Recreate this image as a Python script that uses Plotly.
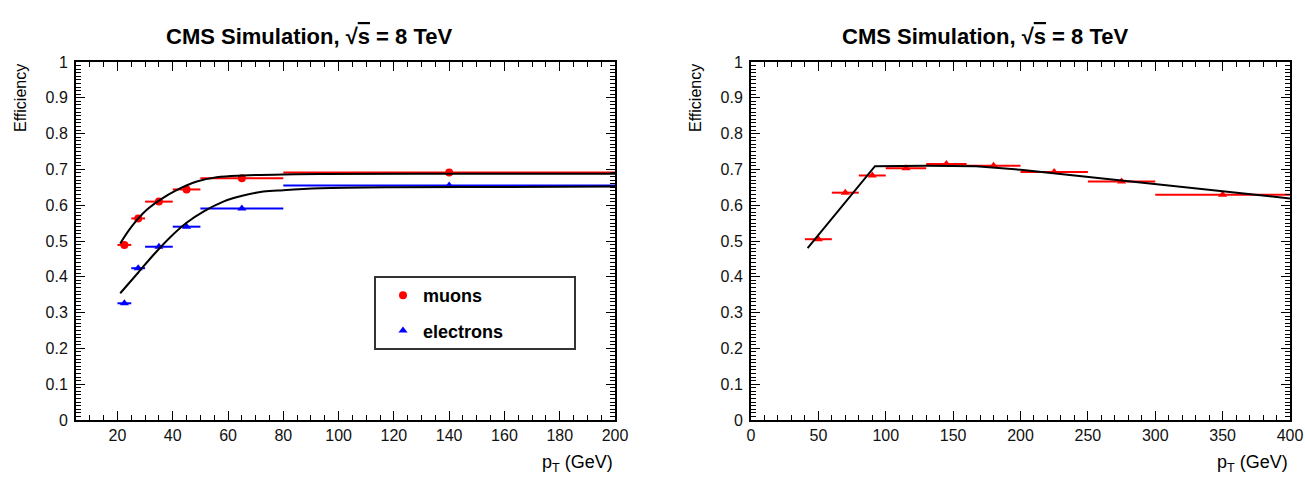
import plotly.graph_objects as go

W, H = 1305, 481

# ---------------- data: left panel ----------------
lep_x = [22.5, 27.5, 35, 45, 65, 140]
bin_lo = [20, 25, 30, 40, 50, 80]
bin_hi = [25, 30, 40, 50, 80, 200]
mu_eff = [0.489, 0.563, 0.610, 0.644, 0.675, 0.691]
el_eff = [0.326, 0.424, 0.484, 0.540, 0.591, 0.655]

mu_fit_x = [21, 25.1, 30.6, 35.4, 41.4, 48.7, 55.9, 65.5, 80, 93.3, 140, 200]
mu_fit_y = [0.493, 0.540, 0.587, 0.615, 0.642, 0.666, 0.678, 0.683, 0.686, 0.687, 0.688, 0.688]
el_fit_x = [21, 27.3, 33.0, 39.0, 45.0, 51.1, 58.3, 65.5, 72.8, 80, 93.3, 120, 160, 200]
el_fit_y = [0.354, 0.410, 0.461, 0.510, 0.551, 0.582, 0.610, 0.627, 0.638, 0.642, 0.647, 0.650, 0.651, 0.652]

# ---------------- data: right panel ----------------
r_x = [50, 70, 90, 115, 145, 180, 225, 275, 350]
r_lo = [40, 60, 80, 100, 130, 160, 200, 250, 300]
r_hi = [60, 80, 100, 130, 160, 200, 250, 300, 400]
r_eff = [0.505, 0.635, 0.683, 0.703, 0.715, 0.710, 0.693, 0.666, 0.629]
r_fit_x = [42, 92, 130, 167, 200, 250, 300, 350, 400]
r_fit_y = [0.480, 0.709, 0.710, 0.709, 0.699, 0.679, 0.659, 0.639, 0.619]

RED = "#ff0000"
BLUE = "#0000ff"
FONT = "Liberation Sans, Arial, Helvetica, sans-serif"


def px_x(p):
    return p / W


def px_y(p):
    return (H - p) / H


fig = go.Figure()


def half_widths(xc, lo, hi):
    return [h - c for c, h in zip(xc, hi)], [c - l for c, l in zip(xc, lo)]


# left panel traces
plus, minus = half_widths(lep_x, bin_lo, bin_hi)
fig.add_trace(go.Scatter(
    x=lep_x, y=mu_eff, mode="markers", name="muons", legendgroup="mu",
    marker=dict(symbol="circle", size=8, color=RED),
    error_x=dict(type="data", array=plus, arrayminus=minus, color=RED, thickness=2, width=0),
    xaxis="x", yaxis="y"))
fig.add_trace(go.Scatter(
    x=lep_x, y=el_eff, mode="markers", name="electrons", legendgroup="el",
    marker=dict(symbol="triangle-up", size=8, color=BLUE),
    error_x=dict(type="data", array=plus, arrayminus=minus, color=BLUE, thickness=2, width=0),
    xaxis="x", yaxis="y"))
fig.add_trace(go.Scatter(x=mu_fit_x, y=mu_fit_y, mode="lines", line=dict(color="black", width=2, shape="spline"),
                         showlegend=False, xaxis="x", yaxis="y"))
fig.add_trace(go.Scatter(x=el_fit_x, y=el_fit_y, mode="lines", line=dict(color="black", width=2, shape="spline"),
                         showlegend=False, xaxis="x", yaxis="y"))

# right panel traces
rplus, rminus = half_widths(r_x, r_lo, r_hi)
fig.add_trace(go.Scatter(
    x=r_x, y=r_eff, mode="markers", showlegend=False,
    marker=dict(symbol="triangle-up", size=8, color=RED),
    error_x=dict(type="data", array=rplus, arrayminus=rminus, color=RED, thickness=2, width=0),
    xaxis="x2", yaxis="y2"))
fig.add_trace(go.Scatter(x=r_fit_x, y=r_fit_y, mode="lines", line=dict(color="black", width=2),
                         showlegend=False, xaxis="x2", yaxis="y2"))

tickfont = dict(family=FONT, size=16, color="#111111")

axis_common = dict(
    showline=True, linecolor="black", linewidth=2, mirror="ticks",
    ticks="inside", ticklen=9, tickwidth=1, tickcolor="black",
    showgrid=False, zeroline=False, tickfont=tickfont, automargin=False,
)

ydom = [px_y(420), px_y(62)]
fig.update_layout(
    width=W, height=H,
    margin=dict(l=0, r=0, t=0, b=0, pad=0, autoexpand=False),
    paper_bgcolor="white", plot_bgcolor="white",
    xaxis=dict(domain=[px_x(76), px_x(615)], range=[5, 200], tick0=0, dtick=20,
               minor=dict(dtick=5, ticklen=5, tickcolor="black", ticks="inside"),
               anchor="y", **axis_common),
    yaxis=dict(domain=ydom, range=[0, 1], dtick=0.1, ticklabelstandoff=3,
               minor=dict(dtick=0.01, ticklen=5, tickcolor="black", ticks="inside"),
               anchor="x", **axis_common),
    xaxis2=dict(domain=[px_x(751), px_x(1290)], range=[0, 400], dtick=50,
                minor=dict(dtick=10, ticklen=5, tickcolor="black", ticks="inside"),
                anchor="y2", **axis_common),
    yaxis2=dict(domain=ydom, range=[0, 1], dtick=0.1, ticklabelstandoff=3,
                minor=dict(dtick=0.01, ticklen=5, tickcolor="black", ticks="inside"),
                anchor="x2", **axis_common),
    showlegend=True,
    legend=dict(x=px_x(383), y=px_y(277), xanchor="left", yanchor="top",
                bgcolor="rgba(0,0,0,0)", borderwidth=0,
                font=dict(family=FONT, size=18, color="black", weight="bold"),
                tracegroupgap=9, itemsizing="trace"),
)

# legend frame
fig.add_shape(type="rect", xref="paper", yref="paper",
              x0=px_x(375), x1=px_x(575), y0=px_y(349), y1=px_y(277),
              line=dict(color="#333333", width=2), fillcolor="rgba(0,0,0,0)")

title_txt = "<b>CMS Simulation, √<span style='text-decoration:overline'>s</span> = 8 TeV</b>"
for cx, yt, xt_right in [(309, 20, 615), (985, 695, 1290)]:
    fig.add_annotation(text=title_txt, xref="paper", yref="paper", x=px_x(cx), y=px_y(37),
                       xanchor="center", yanchor="middle", showarrow=False,
                       font=dict(family=FONT, size=22, color="black"))
    fig.add_annotation(text="Efficiency", xref="paper", yref="paper", x=px_x(yt), y=px_y(62),
                       xanchor="center", yanchor="top", textangle=-90, showarrow=False,
                       font=dict(family=FONT, size=16, color="black"))
    fig.add_annotation(text="p<sub>T</sub> (GeV)", xref="paper", yref="paper", x=px_x(xt_right), y=px_y(463),
                       xanchor="right", yanchor="middle", showarrow=False,
                       font=dict(family=FONT, size=18, color="black"))

fig.write_html("out.html")
